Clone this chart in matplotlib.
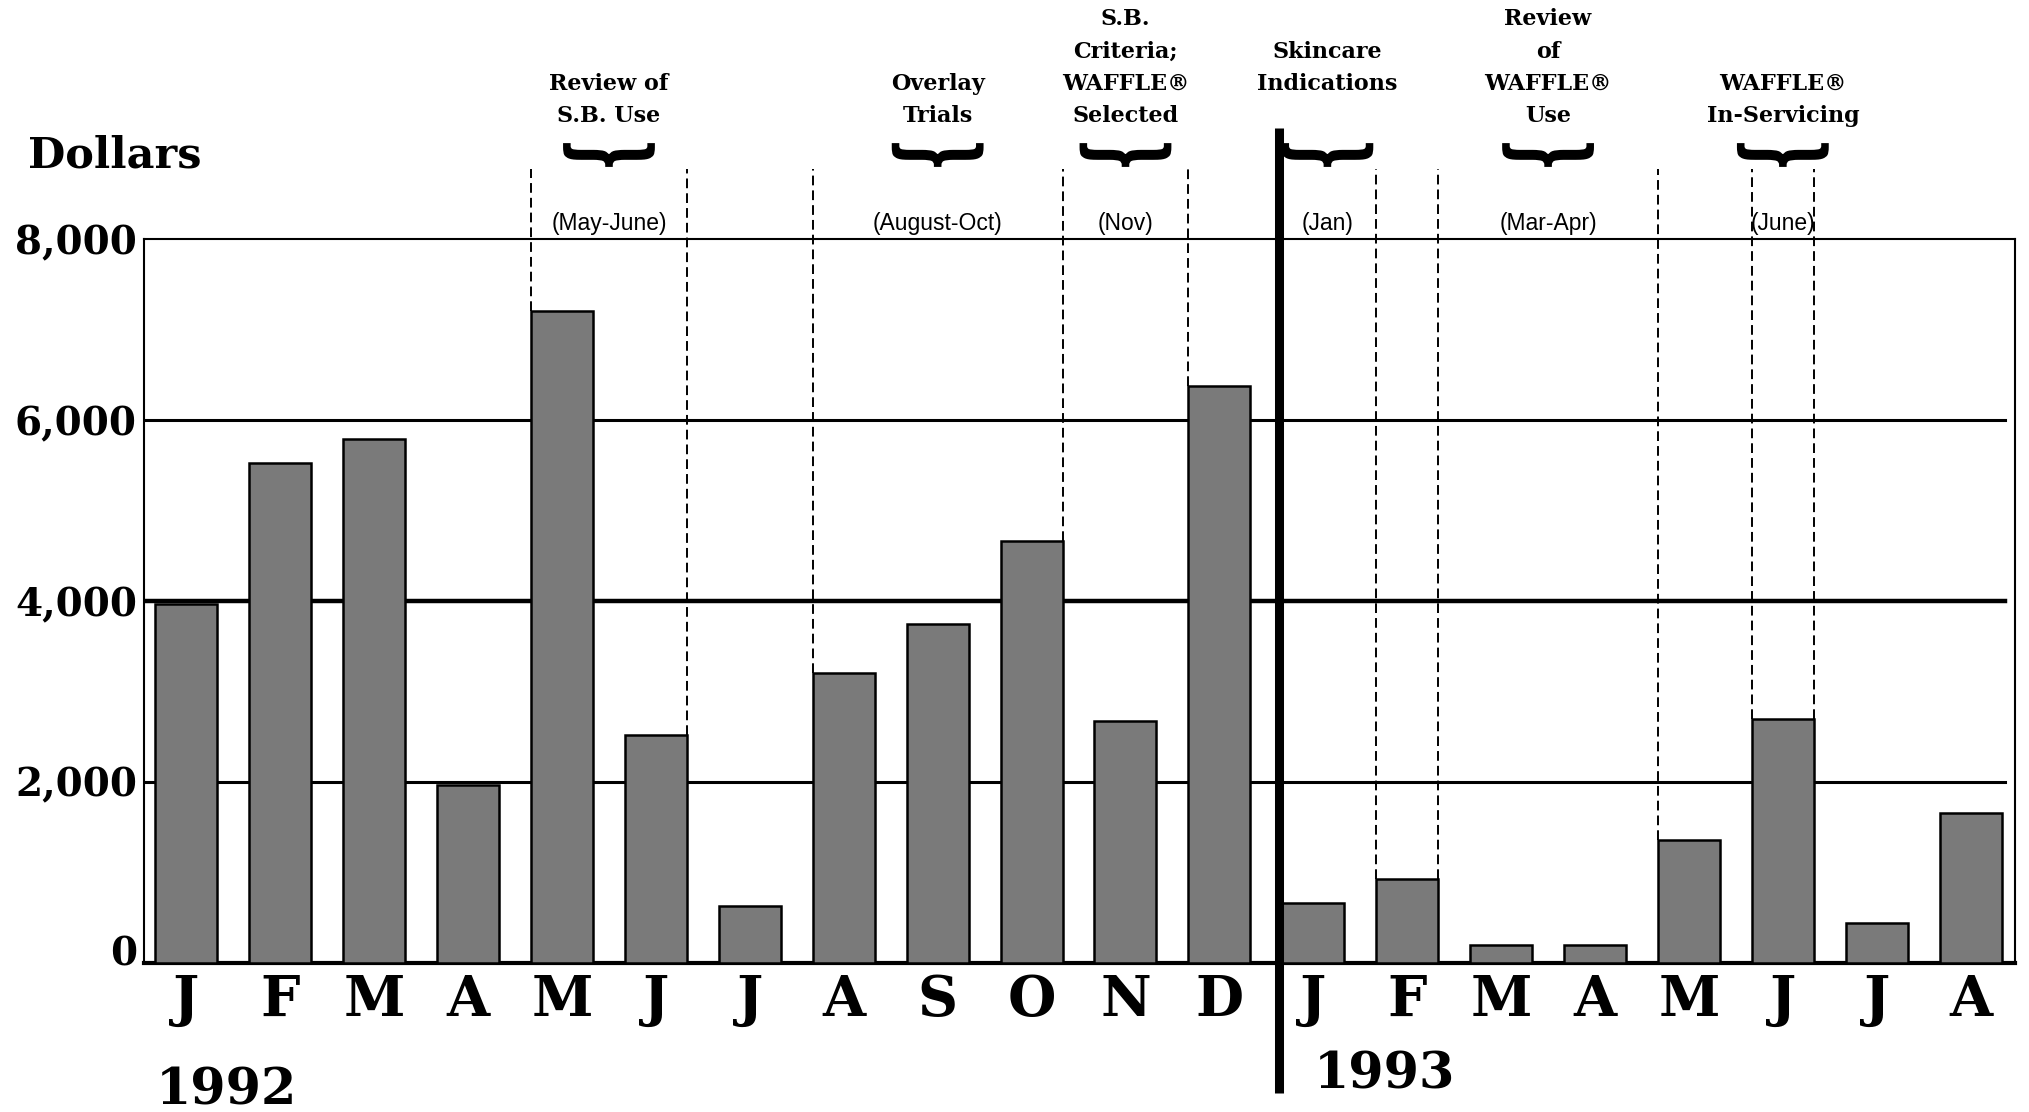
import matplotlib
matplotlib.use("Agg")
import matplotlib.pyplot as plt
import matplotlib.transforms as mtransforms
from matplotlib.textpath import TextPath
from matplotlib.patches import PathPatch
from matplotlib.font_manager import FontProperties, fontManager

# monthly dollars, Jan 1992 - Aug 1993
months = ["J", "F", "M", "A", "M", "J", "J", "A", "S", "O", "N", "D",
          "J", "F", "M", "A", "M", "J", "J", "A"]
dollars = [3970, 5530, 5790, 1965, 7210, 2515, 630, 3200, 3750, 4665, 2670, 6380,
           655, 920, 190, 190, 1360, 2700, 435, 1655]
yticks = [0, 2000, 4000, 6000, 8000]
ytick_labels = ["0", "2,000", "4,000", "6,000", "8,000"]

notes = ["Review of\nS.B. Use", "Overlay\nTrials", "S.B.\nCriteria;\nWAFFLE®\nSelected",
         "Skincare\nIndications\n", "Review\nof\nWAFFLE®\nUse", "WAFFLE®\nIn-Servicing"]
periods = ["(May-June)", "(August-Oct)", "(Nov)", "(Jan)", "(Mar-Apr)", "(June)"]

BAR_W = 0.66
DIVIDER = 11.63  # 1992 / 1993 split
# bracket edges: (bar index, side)  side -1 = left edge, +1 = right edge, None = divider
spans = [((4, -1), (5, 1)), ((7, -1), (9, 1)), ((9, 1), (11, -1)),
         (None, (13, -1)), ((13, 1), (16, -1)), ((17, -1), (17, 1))]

SERIF = "DejaVu Serif"
names = {f.name for f in fontManager.ttflist}
SANS = "Liberation Sans Narrow" if "Liberation Sans Narrow" in names else "Liberation Sans"


def edge_x(e):
    if e is None:
        return DIVIDER
    i, side = e
    return i + side * BAR_W / 2


fig = plt.figure(figsize=(20.29, 11.12), dpi=100)
ax = fig.add_axes([0.0708, 0.1343, 0.9222, 0.6504])

x = list(range(len(months)))
ax.bar(x, dollars, width=BAR_W, color="#7a7a7a", edgecolor="black", linewidth=1.8, zorder=3)

for v, lw in [(2000, 2.2), (4000, 3.2), (6000, 2.2)]:
    ax.axhline(v, xmax=0.995, color="black", linewidth=lw, zorder=1)

ax.set_xlim(-0.455, 19.47)
ax.set_ylim(0, 8000)

for s in ["top", "left", "right"]:
    ax.spines[s].set_linewidth(1.5)
ax.spines["bottom"].set_linewidth(3)

ax.set_xticks(x)
ax.set_xticklabels(months, fontfamily=SERIF, fontweight="bold", fontsize=40)
ax.set_yticks(yticks)
ax.set_yticklabels(ytick_labels, fontfamily=SERIF, fontweight="bold", fontsize=28)
ax.tick_params(axis="both", length=0)
ax.tick_params(axis="x", pad=7.5)
ax.tick_params(axis="y", pad=4.8)
zero = ax.get_yticklabels()[0]
zero.set_transform(zero.get_transform() + mtransforms.ScaledTranslation(0, 9 / 72, fig.dpi_scale_trans))

# dashed guide lines from bar tops up to the brackets
DASH_TOP = 1.098
xtrans = ax.get_xaxis_transform()
done = set()
for span in spans:
    for e in span:
        if e is None or e in done:
            continue
        done.add(e)
        i = e[0]
        xe = edge_x(e)
        y0 = dollars[i] / 8000
        ax.plot([xe, xe], [y0, DASH_TOP], transform=xtrans, color="black", linewidth=1.4,
                linestyle=(0, (5.0, 2.6)), clip_on=False, zorder=2)

# divider between years
ax.plot([DIVIDER, DIVIDER], [-0.180, 1.154], transform=xtrans, color="black",
        linewidth=6.5, solid_capstyle="butt", clip_on=False, zorder=5)

# brace glyph, squashed and turned to point down
fp = FontProperties(family=SERIF, weight="bold")
brace = TextPath((0, 0), "}", size=1, prop=fp)
ext = brace.get_extents()
BRACE_W, BRACE_H = 0.90, 0.22  # inches

for span, note, per in zip(spans, notes, periods):
    xc = (edge_x(span[0]) + edge_x(span[1])) / 2
    ax.text(xc, 1.1554, note, transform=xtrans, ha="center", va="bottom",
            fontfamily=SERIF, fontweight="bold", fontsize=16, linespacing=1.6)
    ax.text(xc, 1.022, per, transform=xtrans, ha="center", va="center",
            fontfamily=SANS, fontsize=16.5)
    t = (mtransforms.Affine2D()
         .translate(-(ext.x0 + ext.x1) / 2, -(ext.y0 + ext.y1) / 2)
         .rotate_deg(-90)
         .scale(BRACE_W / ext.height, BRACE_H / ext.width)
         + fig.dpi_scale_trans
         + mtransforms.ScaledTranslation(xc, 1.1167, xtrans))
    fig.add_artist(PathPatch(brace, transform=t, facecolor="black", edgecolor="black",
                             linewidth=1.3))

ax.text(-0.33, -0.177, "1992", transform=xtrans, ha="left", va="center",
        fontfamily=SERIF, fontweight="bold", fontsize=36.5)
ax.text(12.0, -0.155, "1993", transform=xtrans, ha="left", va="center",
        fontfamily=SERIF, fontweight="bold", fontsize=36.5)
fig.text(0.0138, 0.8606, "Dollars", ha="left", va="center",
         fontfamily=SERIF, fontweight="bold", fontsize=31)

fig.savefig("out.png", dpi=100)
